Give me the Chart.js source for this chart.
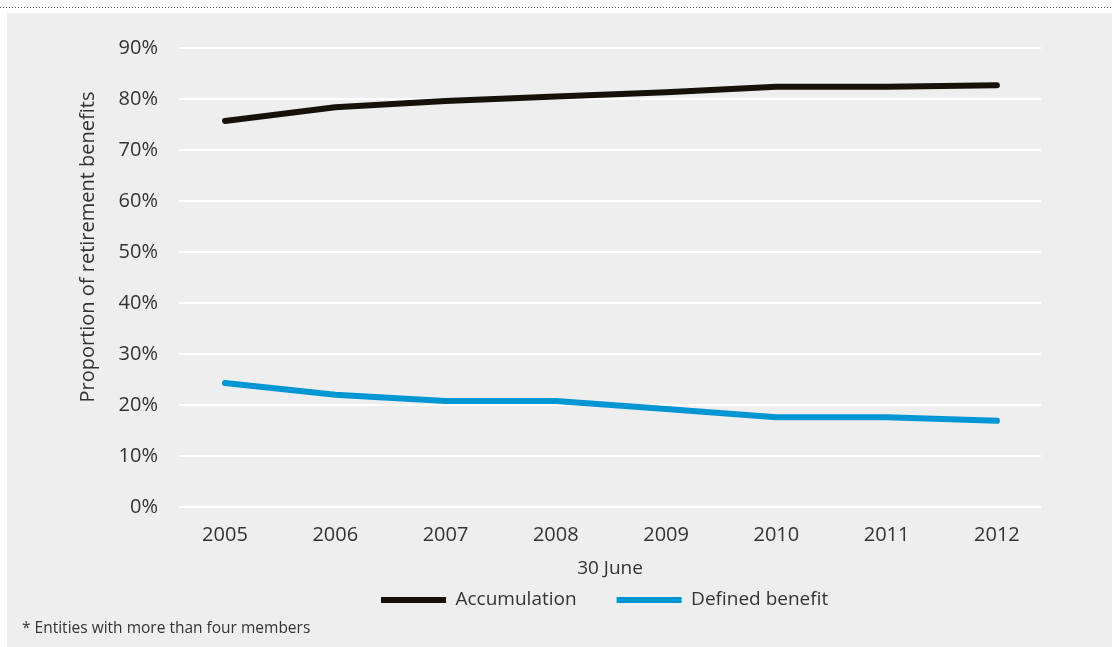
<!DOCTYPE html>
<html>
<head>
<meta charset="utf-8">
<script src="https://cdn.jsdelivr.net/npm/chart.js@4/dist/chart.umd.min.js"></script>
<style>
  html, body { margin: 0; padding: 0; background: #ffffff; width: 1118px; height: 647px; overflow: hidden; }
  #dots { position: absolute; left: 0; top: 7px; width: 1113px; height: 1px;
          background: repeating-linear-gradient(to right, #444 0 1px, transparent 1px 3px); }
  #panel { position: absolute; left: 7px; top: 13px; width: 1105px; height: 634px; background: #eeeeee; }
  #wrap { position: absolute; left: 0; top: 0; width: 1118px; height: 647px; }
  #note { position: absolute; left: 22px; top: 616px; font-family: "Open Sans", sans-serif; font-size: 15.5px; color: #333; white-space: nowrap; }
</style>
</head>
<body>
<div id="dots"></div>
<div id="panel"></div>
<div id="wrap"><canvas id="c" width="1118" height="647"></canvas></div>
<div id="note">* Entities with more than four members</div>
<script>
const years = [2005, 2006, 2007, 2008, 2009, 2010, 2011, 2012];
const accumulation = [75.7, 78.4, 79.6, 80.5, 81.3, 82.4, 82.4, 82.7];
const definedBenefit = [24.3, 22.0, 20.8, 20.8, 19.2, 17.6, 17.6, 16.9];
const yTicks = [0, 10, 20, 30, 40, 50, 60, 70, 80, 90];
const seriesNames = ['Accumulation', 'Defined benefit'];
const seriesColors = ['#16120a', '#0096d4'];
const yTitleText = 'Proportion of retirement benefits';
const xTitleText = '30 June';

const FONT = '"Open Sans", sans-serif';
const TEXT = '#333333';

const toPoints = (vals) => years.map((y, i) => ({ x: y, y: vals[i] }));

const legendPlace = {
  id: 'legendPlace',
  afterLayout(chart) {
    const lg = chart.legend;
    if (!lg) return;
    const pad = chart.options.plugins.legend.labels.padding;
    lg.left = 381 - pad;
    lg.right = 1118;
    lg.top = 600 - 9.5 - pad;
  }
};

const yTitle = {
  id: 'yTitle',
  afterDraw(chart) {
    const ctx = chart.ctx;
    ctx.save();
    ctx.translate(88, 247);
    ctx.rotate(-Math.PI / 2);
    ctx.font = '20px ' + FONT;
    ctx.fillStyle = TEXT;
    ctx.textAlign = 'center';
    ctx.textBaseline = 'middle';
    ctx.fillText(yTitleText, 0, 0);
    ctx.restore();
  }
};

new Chart(document.getElementById('c'), {
  type: 'line',
  data: {
    datasets: [
      { label: seriesNames[0], data: toPoints(accumulation), borderColor: seriesColors[0], backgroundColor: seriesColors[0],
        borderWidth: 6, pointRadius: 0, tension: 0, borderCapStyle: 'round', borderJoinStyle: 'round', fill: false },
      { label: seriesNames[1], data: toPoints(definedBenefit), borderColor: seriesColors[1], backgroundColor: seriesColors[1],
        borderWidth: 6, pointRadius: 0, tension: 0, borderCapStyle: 'round', borderJoinStyle: 'round', fill: false }
    ]
  },
  options: {
    responsive: false,
    animation: false,
    layout: { padding: { top: 48, right: 77, left: 0, bottom: 0 } },
    scales: {
      x: {
        type: 'linear',
        min: 2004.583,
        max: 2012.4,
        afterBuildTicks: (s) => { s.ticks = years.map(v => ({ value: v })); },
        afterFit: (s) => { s.height = 100; },
        grid: { display: false, drawTicks: false },
        border: { display: false },
        ticks: { padding: 16, color: TEXT, font: { family: FONT, size: 20 }, callback: (v) => String(v), maxRotation: 0, autoSkip: false },
        title: { display: true, text: xTitleText, color: TEXT, font: { family: FONT, size: 19, lineHeight: 1 }, padding: { top: 0, bottom: 29 } }
      },
      y: {
        min: 0,
        max: 90,
        afterBuildTicks: (s) => { s.ticks = yTicks.map(v => ({ value: v })); },
        afterFit: (s) => { s.width = 179; },
        grid: { color: '#ffffff', lineWidth: 2, drawTicks: false },
        border: { display: false },
        ticks: { padding: 21, color: TEXT, font: { family: FONT, size: 20 }, callback: (v) => v + '%' },
        title: { display: false }
      }
    },
    plugins: {
      tooltip: { enabled: false },
      legend: {
        position: 'bottom',
        align: 'start',
        maxHeight: 40,
        labels: {
          usePointStyle: true,
          pointStyle: 'line',
          pointStyleWidth: 65,
          padding: 40,
          color: TEXT,
          font: { family: FONT, size: 19 }
        }
      }
    }
  },
  plugins: [legendPlace, yTitle]
});
</script>
</body>
</html>
